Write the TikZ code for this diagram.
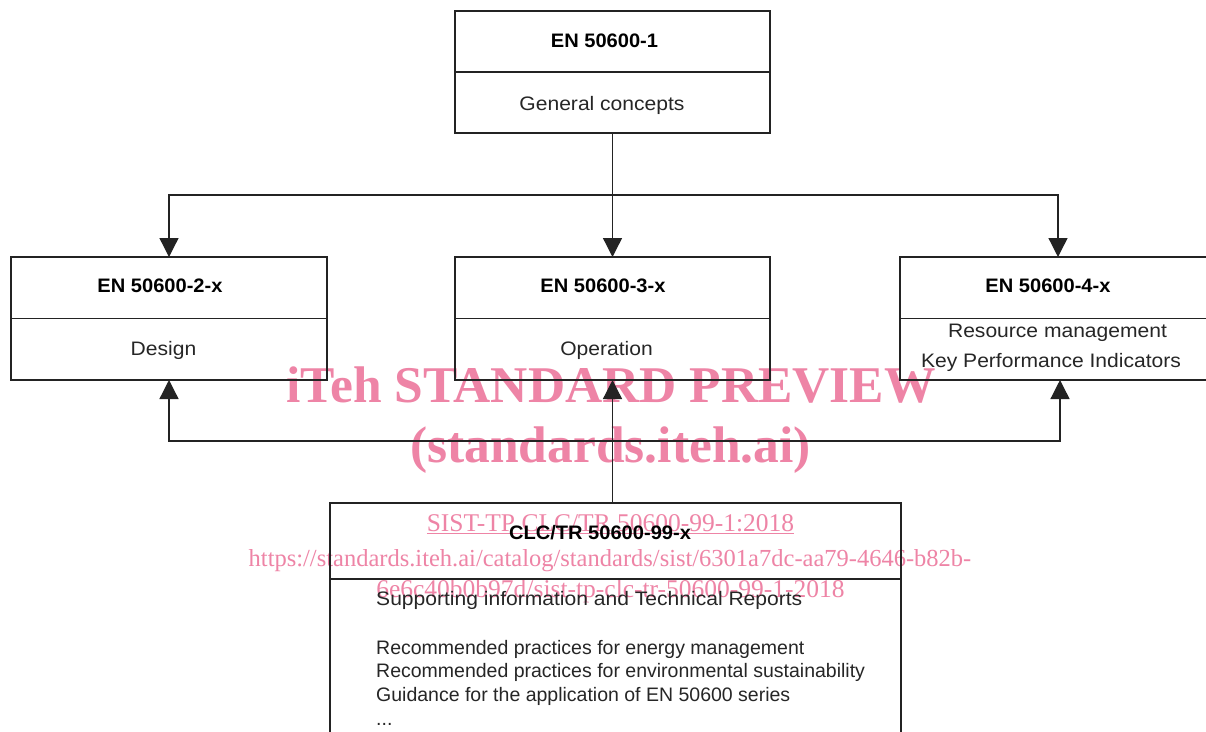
\documentclass[tikz,border=0pt]{standalone}
\usepackage{fontspec}
\setmainfont{Liberation Sans}
\newfontfamily\bodyfont{Liberation Sans}[FakeStretch=1.08]
\newfontfamily\plainfont{Liberation Sans}
\newfontfamily\hdfont{Liberation Sans}[FakeStretch=1.03]
\newfontfamily\wmfont{Liberation Serif}
\usetikzlibrary{arrows.meta}
\definecolor{wmpink}{RGB}{238,132,166}
\definecolor{linegray}{RGB}{35,35,35}
\begin{document}
\begin{tikzpicture}[x=1pt,y=-1pt,
  box/.style={draw=linegray,line width=1.3pt,rectangle,inner sep=0pt,outer sep=0pt},
  hd/.style={font=\hdfont\bfseries\fontsize{19.5}{23}\selectfont,anchor=base,inner sep=0pt,text=black},
  bd/.style={font=\bodyfont\fontsize{19.5}{24}\selectfont,anchor=base,inner sep=0pt,text=black!85},
  bdl/.style={bd,anchor=base west},
  pl/.style={bdl,font=\plainfont\fontsize{19.5}{24}\selectfont},
  ln/.style={draw=linegray,line width=1.3pt},
  arr/.style={ln,-{Triangle[width=19pt,length=19pt]}},
  wm/.style={text=wmpink,anchor=base,inner sep=0pt},
  wmbig/.style={wm,font=\wmfont\bfseries\fontsize{51.5}{55}\selectfont},
  wmsmall/.style={wm,font=\wmfont\fontsize{25.5}{28}\selectfont},
  wmurl/.style={wm,font=\wmfont\fontsize{24.5}{28}\selectfont}]
\clip (0,0) rectangle (1206,731);
\fill[white] (0,0) rectangle (1206,731);

% watermark
\node[wmbig] (w1) at (611,402.7) {iTeh STANDARD PREVIEW};
\node[wmbig] (w2) at (610.5,462) {(standards.iteh.ai)};
\node[wmsmall] (w3) at (610.5,531.7) {\underline{SIST-TP CLC/TR 50600-99-1:2018}};
\node[wmurl] (w4) at (610,566.7) {https://standards.iteh.ai/catalog/standards/sist/6301a7dc-aa79-4646-b82b-};
\node[wmsmall] (w5) at (610.5,597) {6e6c40b0b97d/sist-tp-clc-tr-50600-99-1-2018};

% boxes
\node[box,minimum width=315pt,minimum height=122pt] (b1) at (612.5,72) {};
\node[box,minimum width=316pt,minimum height=123pt] (b2) at (169,318.5) {};
\node[box,minimum width=315pt,minimum height=123pt] (b3) at (612.5,318.5) {};
\node[box,minimum width=316pt,minimum height=123pt] (b4) at (1058,318.5) {};
\node[box,minimum width=571pt,minimum height=300pt] (b5) at (615.5,653) {};

% dividers
\draw[ln] (b1.west) -- (b1.east);
\draw[ln] (b2.west) -- (b2.east);
\draw[ln] (b3.west) -- (b3.east);
\draw[ln] (b4.west) -- (b4.east);
\draw[ln] ([yshift=-76pt]b5.north west) -- ([yshift=-76pt]b5.north east);

% texts
\node[hd] (h1) at (604.5,47.5) {EN 50600-1};
\node[bd] (t1) at (602,110) {General concepts};
\node[hd] (h2) at (160,292.5) {EN 50600-2-x};
\node[bd] (t2) at (163.5,355) {Design};
\node[hd] (h3) at (603,292.5) {EN 50600-3-x};
\node[bd] (t3) at (606.5,355) {Operation};
\node[hd] (h4) at (1048,292.5) {EN 50600-4-x};
\node[bd] (t4a) at (1057.5,337.5) {Resource management};
\node[bd] (t4b) at (1051,367.5) {Key Performance Indicators};
\node[hd] (h5) at (600,539) {CLC/TR 50600-99-x};
\node[bdl] (t5a) at (376,605) {Supporting information and Technical Reports};
\node[pl] (t5b) at (376,654) {Recommended practices for energy management};
\node[pl] (t5c) at (376,677.5) {Recommended practices for environmental sustainability};
\node[pl] (t5d) at (376,701) {Guidance for the application of EN 50600 series};
\node[pl] (t5e) at (376,725) {...};

% connectors
\coordinate (j1) at (612.5,195);
\coordinate (j2) at (612.5,441);
\draw[arr] (b1.south) -- (b3.north);
\draw[arr] (j1) -| (b2.north);
\draw[arr] (j1) -| (b4.north);
\draw[arr] (b5.north -| b3.south) -- (b3.south);
\draw[arr] (j2) -| (b2.south);
\draw[arr] (j2) -| ([xshift=2pt]b4.south);
\end{tikzpicture}
\end{document}
